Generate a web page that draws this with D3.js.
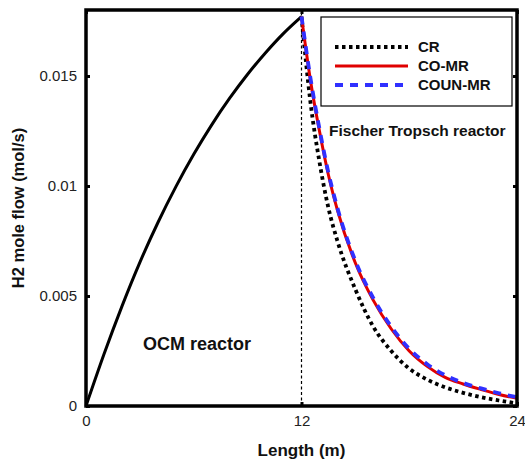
<!DOCTYPE html>
<html>
<head>
<meta charset="utf-8">
<script src="https://cdn.jsdelivr.net/npm/d3@7"></script>
<style>
  html, body { margin: 0; padding: 0; background: #fff; }
  svg { display: block; font-family: Arial, "Liberation Sans", sans-serif; }
</style>
</head>
<body>
<svg id="chart" width="525" height="462"></svg>
<script>
// ---- data ----
const lengthOCM = [0, 1, 2, 3, 4, 5, 6, 7, 8, 9, 10, 11, 12];
const h2OCM = [0, 0.00235, 0.00453, 0.00653, 0.00833, 0.00996, 0.01144, 0.01278, 0.01399, 0.01508, 0.01606, 0.01694, 0.0177];

const lengthFT = [12, 12.5, 13, 13.5, 14, 15, 16, 17, 18, 19, 20, 21, 22, 23, 24];
const h2CR     = [0.0177, 0.0138, 0.0111, 0.0090, 0.0075, 0.0053, 0.0036, 0.0025, 0.0017, 0.0012, 0.00085, 0.0006, 0.0004, 0.00025, 0.00012];
const h2COMR   = [0.0177, 0.0148, 0.0125, 0.0105, 0.0089, 0.0065, 0.0048, 0.0035, 0.0025, 0.0018, 0.0013, 0.0010, 0.00075, 0.00052, 0.00035];
const h2COUNMR = [0.0177, 0.0149, 0.0126, 0.0106, 0.0090, 0.0066, 0.0049, 0.0036, 0.0026, 0.0019, 0.0014, 0.00105, 0.0008, 0.00058, 0.0004];

const seriesNames = ["CR", "CO-MR", "COUN-MR"];
const xTicks = [0, 12, 24];
const xTickLabels = ["0", "12", "24"];
const yTicks = [0, 0.005, 0.01, 0.015];
const yTickLabels = ["0", "0.005", "0.01", "0.015"];
const reactorDivide = 12;

// ---- layout ----
const svg = d3.select("#chart");
const L = 86, R = 517, T = 10, B = 406;
const x = d3.scaleLinear().domain([0, 24]).range([L, R]);
const y = d3.scaleLinear().domain([0, 0.018]).range([B, T]);

// dashed reactor divider
svg.append("line")
  .attr("x1", x(reactorDivide)).attr("x2", x(reactorDivide))
  .attr("y1", y(0)).attr("y2", y(0.018))
  .attr("stroke", "#000").attr("stroke-width", 1.2)
  .attr("stroke-dasharray", "3,2.5");

const line = d3.line().x(d => x(d[0])).y(d => y(d[1])).curve(d3.curveMonotoneX);
const zip = (a, b) => a.map((v, i) => [v, b[i]]);

const styles = {
  "CR":      { color: "#000", width: 3.8, dash: "3.5,3.5" },
  "CO-MR":   { color: "#e00000", width: 3, dash: null },
  "COUN-MR": { color: "#3030ff", width: 3.8, dash: "8,7" }
};
const seriesData = { "CR": h2CR, "CO-MR": h2COMR, "COUN-MR": h2COUNMR };

// OCM curve
svg.append("path")
  .attr("d", line(zip(lengthOCM, h2OCM)))
  .attr("fill", "none").attr("stroke", "#000").attr("stroke-width", 3);

seriesNames.forEach(n => {
  const s = styles[n];
  svg.append("path")
    .attr("d", line(zip(lengthFT, seriesData[n])))
    .attr("fill", "none").attr("stroke", s.color).attr("stroke-width", s.width)
    .attr("stroke-dasharray", s.dash);
});

// axes (MATLAB-style box, inward ticks)
const fmtX = d => xTickLabels[xTicks.indexOf(d)];
const fmtY = d => yTickLabels[yTicks.indexOf(d)];

const gx = svg.append("g").attr("transform", `translate(0,${B})`)
  .call(d3.axisBottom(x).tickValues(xTicks).tickFormat(fmtX).tickSizeInner(-4).tickSizeOuter(0).tickPadding(9));
const gy = svg.append("g").attr("transform", `translate(${L},0)`)
  .call(d3.axisLeft(y).tickValues(yTicks).tickFormat(fmtY).tickSizeInner(-4).tickSizeOuter(0).tickPadding(9));
const gxt = svg.append("g").attr("transform", `translate(0,${T})`)
  .call(d3.axisTop(x).tickValues(xTicks).tickFormat("").tickSizeInner(-4).tickSizeOuter(0));
const gyr = svg.append("g").attr("transform", `translate(${R},0)`)
  .call(d3.axisRight(y).tickValues(yTicks).tickFormat("").tickSizeInner(-4).tickSizeOuter(0));

[gx, gy, gxt, gyr].forEach(g => {
  g.select(".domain").remove();
  g.selectAll(".tick line").attr("stroke", "#000").attr("stroke-width", 3);
  g.selectAll(".tick text").attr("fill", "#222").style("font-size", "15px").style("font-family", "Arial, 'Liberation Sans', sans-serif");
});

// frame
svg.append("rect")
  .attr("x", L).attr("y", T).attr("width", R - L).attr("height", B - T)
  .attr("fill", "none").attr("stroke", "#000").attr("stroke-width", 3.5);

// legend
const lg = svg.append("g");
lg.append("rect").attr("x", 321).attr("y", 17).attr("width", 191).attr("height", 89)
  .attr("fill", "#fff").attr("stroke", "#000").attr("stroke-width", 1.2);
seriesNames.forEach((n, i) => {
  const s = styles[n];
  const yy = 47 + i * 19;
  lg.append("line").attr("x1", 335).attr("x2", 408).attr("y1", yy).attr("y2", yy)
    .attr("stroke", s.color).attr("stroke-width", s.width).attr("stroke-dasharray", s.dash);
  lg.append("text").attr("x", 418).attr("y", yy).attr("dy", "0.36em")
    .attr("fill", "#111").style("font-size", "15px").style("font-weight", "bold").text(n);
});

// annotations
svg.append("text").attr("x", 329).attr("y", 136)
  .style("font-size", "15.5px").style("font-weight", "bold").attr("fill", "#111")
  .text("Fischer Tropsch reactor");
svg.append("text").attr("x", 143).attr("y", 350)
  .style("font-size", "18px").style("font-weight", "bold").attr("fill", "#111")
  .text("OCM reactor");

// axis titles
svg.append("text").attr("x", (L + R) / 2).attr("y", 456)
  .attr("text-anchor", "middle")
  .style("font-size", "17px").style("font-weight", "bold").attr("fill", "#111")
  .text("Length (m)");
svg.append("text").attr("transform", `translate(24,${(T + B) / 2}) rotate(-90)`)
  .attr("text-anchor", "middle")
  .style("font-size", "16.5px").style("font-weight", "bold").attr("fill", "#111")
  .text("H2 mole flow (mol/s)");
</script>
</body>
</html>
